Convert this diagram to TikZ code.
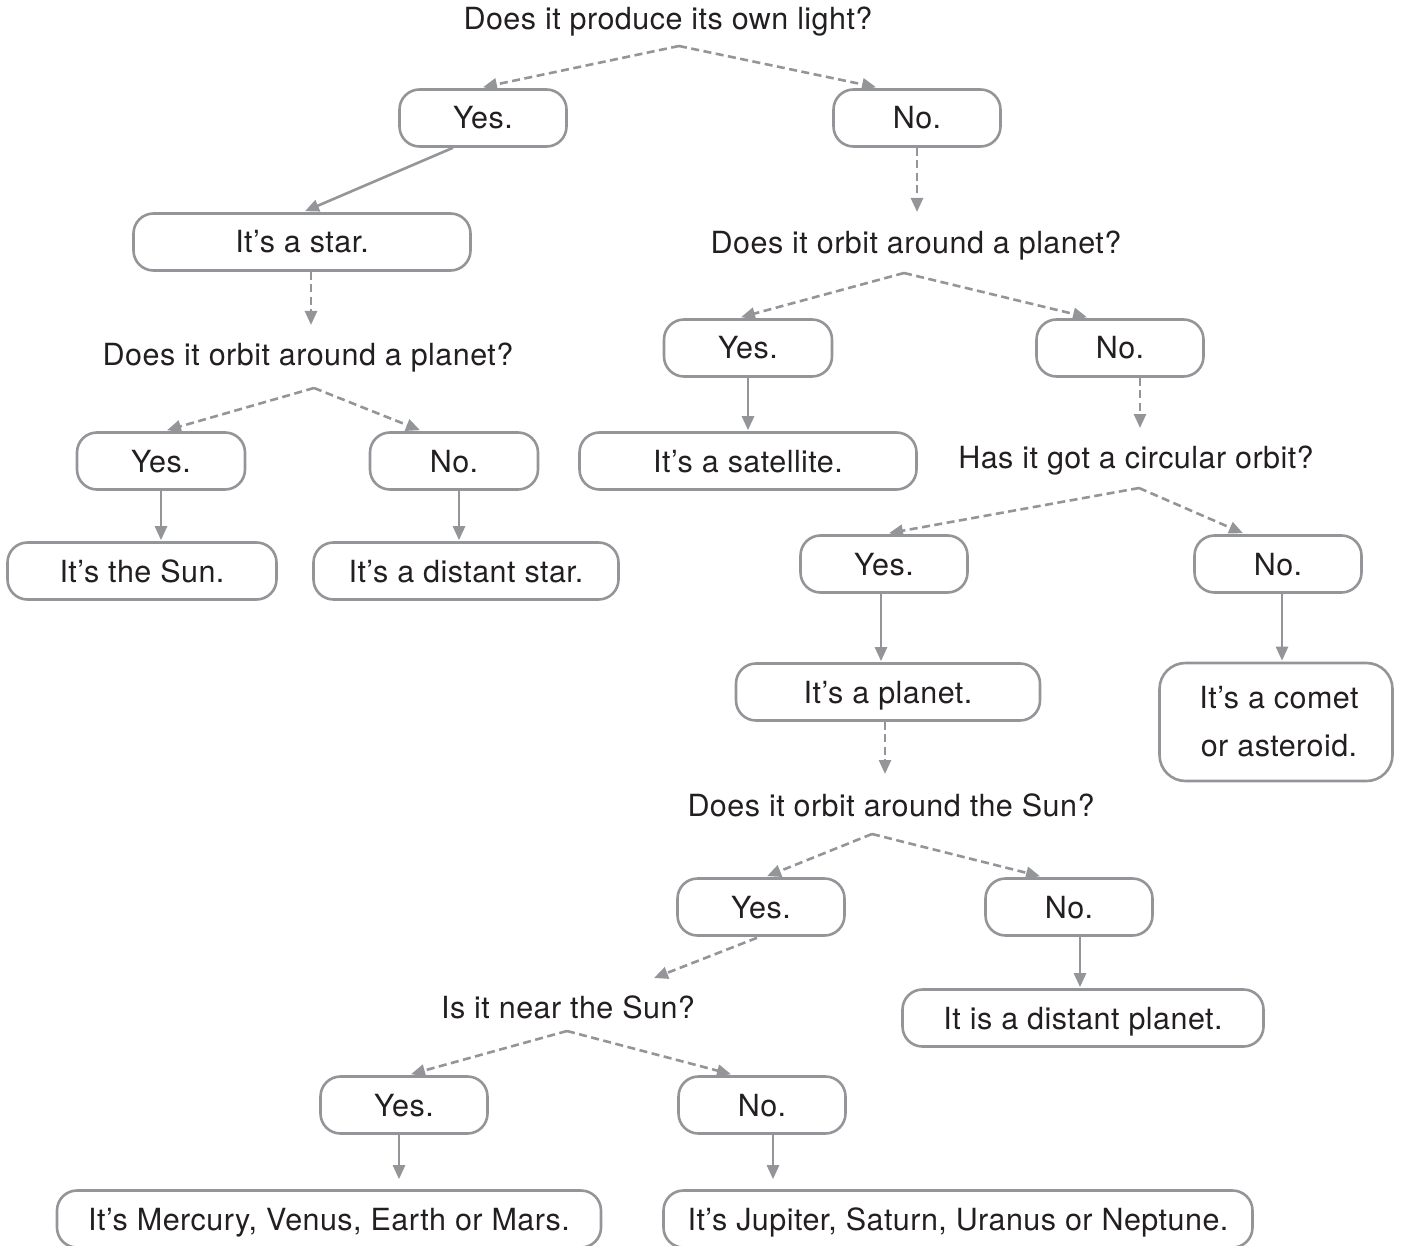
\documentclass[tikz,border=0pt]{standalone}
\usepackage{fontspec}
\setmainfont{TeX Gyre Heros}[LetterSpace=1.5]
\usetikzlibrary{arrows.meta,calc}
\definecolor{ln}{RGB}{148,149,152}
\definecolor{tx}{RGB}{35,31,32}
\newcommand\dfs{\fontsize{30.5}{48}\selectfont}
\begin{document}
\begin{tikzpicture}[x=1pt,y=-1pt,
  boxbase/.style={draw=ln, line width=2.6pt, rounded corners=20pt, minimum height=57pt, inner sep=0pt, font=\dfs, text=tx},
  box/.style={boxbase, text height=22pt, text depth=0pt},
  qtext/.style={inner sep=0pt, font=\dfs, text=tx, anchor=base},
  sarrow/.style={draw=ln, line width=2.6pt, -{Triangle[length=14pt,width=12pt]}},
  darrow/.style={sarrow, dash pattern=on 8pt off 4.5pt}
]
\useasboundingbox (0,0) rectangle (1402,1246);

% questions
\node[qtext] (q1)  at (668,30)   {Does it produce its own light?};
\node[qtext] (q2l) at (308,366)  {Does it orbit around a planet?};
\node[qtext] (q2r) at (916,254)  {Does it orbit around a planet?};
\node[qtext] (q3)  at (1136,468) {Has it got a circular orbit?};
\node[qtext] (q4)  at (891,816)  {Does it orbit around the Sun?};
\node[qtext] (q5)  at (568,1018) {Is it near the Sun?};

% apex / entry coordinates
\coordinate (q1x)  at (679,46);
\coordinate (q2lx) at (314,388);
\coordinate (q2rx) at (904,273);
\coordinate (q3x)  at (1139,488);
\coordinate (q4x)  at (872,834);
\coordinate (q5x)  at (567,1031);
\coordinate (q2lin) at (311,325);
\coordinate (q2rin) at (917,212);
\coordinate (q3in)  at (1140,428);
\coordinate (q4in)  at (885,774);
\coordinate (q5in)  at (654,978);

% boxes
\node[box, minimum width=167pt] (yes1)  at (483,118)  {Yes.};
\node[box, minimum width=167pt] (no1)   at (917,118)  {No.};
\node[box, minimum width=337pt] (star)  at (302,242)  {It’s a star.};
\node[box, minimum width=168pt] (yes2l) at (161,461)  {Yes.};
\node[box, minimum width=168pt] (no2l)  at (454,461)  {No.};
\node[box, minimum width=269pt] (sun)   at (142,571)  {It’s the Sun.};
\node[box, minimum width=305pt] (dstar) at (466,571)  {It’s a distant star.};
\node[box, minimum width=168pt] (yes2r) at (748,348)  {Yes.};
\node[box, minimum width=167pt] (no2r)  at (1120,348) {No.};
\node[box, minimum width=337pt] (sat)   at (748,461)  {It’s a satellite.};
\node[box, minimum width=167pt] (yes3)  at (884,564)  {Yes.};
\node[box, minimum width=167pt] (no3)   at (1278,564) {No.};
\node[box, minimum width=304pt] (planet) at (888,692) {It’s a planet.};
\node[boxbase, minimum width=233pt, minimum height=118pt, rounded corners=26pt, align=center] (comet) at (1276,722) {\hspace*{6pt}It’s a comet\\\hspace*{6pt}or asteroid.};
\node[box, minimum width=167pt] (yes4)  at (761,907)  {Yes.};
\node[box, minimum width=167pt] (no4)   at (1069,907) {No.};
\node[box, minimum width=361pt] (dplanet) at (1083,1018) {It is a distant planet.};
\node[box, minimum width=167pt] (yes5)  at (404,1105) {Yes.};
\node[box, minimum width=167pt] (no5)   at (762,1105) {No.};
\node[box, minimum width=544pt] (merc)  at (329,1219) {It’s Mercury, Venus, Earth or Mars.};
\node[box, minimum width=589pt] (jup)   at (958,1219) {It’s Jupiter, Saturn, Uranus or Neptune.};

% connectors
\draw[darrow] (q1x) -- ([yshift=1pt]yes1.north);
\draw[darrow] (q1x) -- ([xshift=-41pt,yshift=1pt]no1.north);
\draw[sarrow] ([xshift=-30pt]yes1.south) -- ([xshift=3pt,yshift=1pt]star.north);
\draw[darrow] (no1.south) -- (q2rin);
\draw[darrow] ([xshift=9pt]star.south) -- (q2lin);

\draw[darrow] (q2lx) -- ([xshift=6pt,yshift=1pt]yes2l.north);
\draw[darrow] (q2lx) -- ([xshift=-34pt,yshift=1pt]no2l.north);
\draw[sarrow] (yes2l.south) -- ($(yes2l.south |- sun.north)+(0,-1)$);
\draw[sarrow] ($(no2l.south)+(5,0)$) -- ($(no2l.south |- dstar.north)+(5,-1)$);

\draw[darrow] (q2rx) -- ([xshift=-7pt,yshift=1pt]yes2r.north);
\draw[darrow] (q2rx) -- ([xshift=-33pt,yshift=1pt]no2r.north);
\draw[sarrow] (yes2r.south) -- ($(yes2r.south |- sat.north)+(0,-1)$);
\draw[darrow] ($(no2r.south)+(20,0)$) -- (q3in);

\draw[darrow] (q3x) -- ([xshift=5pt,yshift=1pt]yes3.north);
\draw[darrow] (q3x) -- ([xshift=-35pt,yshift=1pt]no3.north);
\draw[sarrow] ($(yes3.south)+(-3,0)$) -- ($(yes3.south |- planet.north)+(-3,-1)$);
\draw[sarrow] ($(no3.south)+(4,0)$) -- ($(no3.south |- comet.north)+(4,-1)$);
\draw[darrow] ($(planet.south)+(-3,0)$) -- (q4in);

\draw[darrow] (q4x) -- ([xshift=6pt,yshift=1pt]yes4.north);
\draw[darrow] (q4x) -- ([xshift=-29pt,yshift=1pt]no4.north);
\draw[darrow] ($(yes4.south)+(-4,1)$) -- (q5in);
\draw[sarrow] ($(no4.south)+(11,0)$) -- ($(no4.south |- dplanet.north)+(11,-1)$);

\draw[darrow] (q5x) -- ([xshift=7pt,yshift=1pt]yes5.north);
\draw[darrow] (q5x) -- ([xshift=-31pt,yshift=1pt]no5.north);
\draw[sarrow, shorten >=10pt] ($(yes5.south)+(-5,0)$) -- ($(yes5.south |- merc.north)+(-5,0)$);
\draw[sarrow, shorten >=10pt] ($(no5.south)+(11,0)$) -- ($(no5.south |- jup.north)+(11,0)$);
\end{tikzpicture}
\end{document}
